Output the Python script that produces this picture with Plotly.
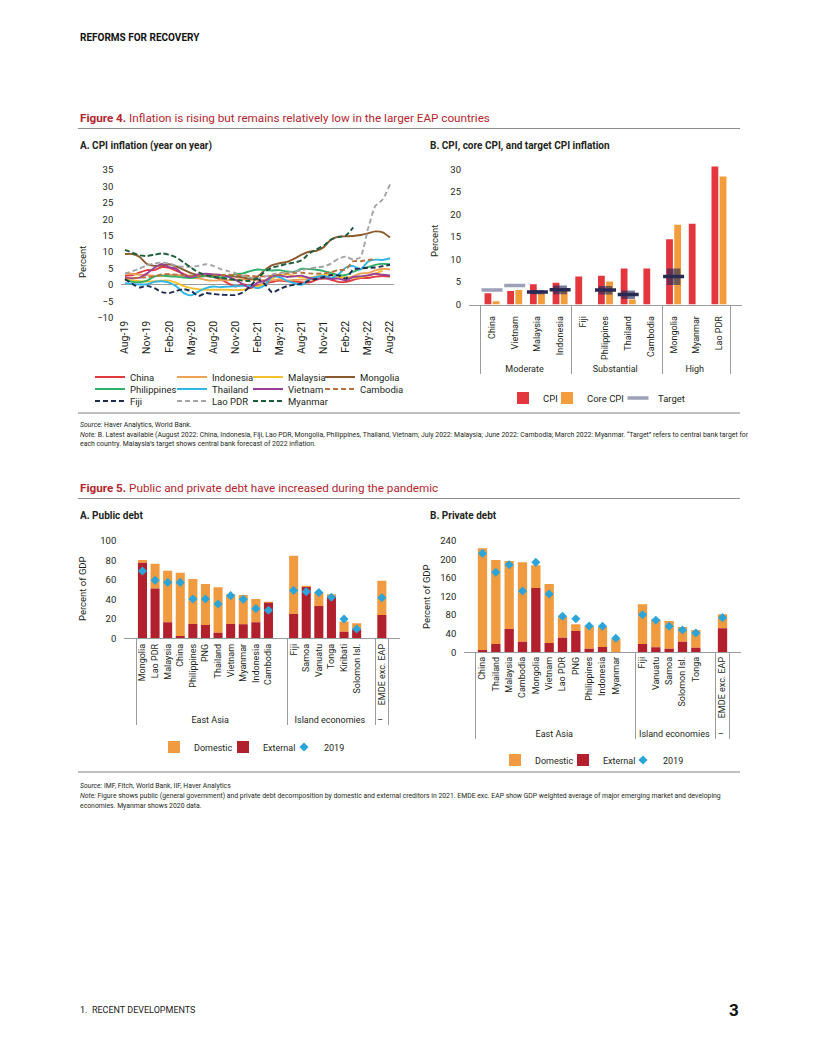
import plotly.graph_objects as go

# The page is photographed at 816x1056; the HTML body adds an 8px margin,
# so the figure is 808x1048 and page coordinates are shifted by 8px.
PAGE_OFF = 8
W, H = 816 - PAGE_OFF, 1056 - PAGE_OFF
FONT = "Roboto"
TXT = "#231f20"
AXIS_GRAY = "#9b9b9b"
RED_TITLE = "#b3262d"


def px(x):
    return (x - PAGE_OFF) / W


def py(y):
    return 1 - (y - PAGE_OFF) / H


# ---------------- Figure 4 A: CPI inflation (year on year) ----------------
months = ["Aug-19", "Sep-19", "Oct-19", "Nov-19", "Dec-19", "Jan-20", "Feb-20", "Mar-20",
          "Apr-20", "May-20", "Jun-20", "Jul-20", "Aug-20", "Sep-20", "Oct-20", "Nov-20",
          "Dec-20", "Jan-21", "Feb-21", "Mar-21", "Apr-21", "May-21", "Jun-21", "Jul-21",
          "Aug-21", "Sep-21", "Oct-21", "Nov-21", "Dec-21", "Jan-22", "Feb-22", "Mar-22",
          "Apr-22", "May-22", "Jun-22", "Jul-22", "Aug-22"]
month_ticks = ["Aug-19", "Nov-19", "Feb-20", "May-20", "Aug-20", "Nov-20", "Feb-21",
               "May-21", "Aug-21", "Nov-21", "Feb-22", "May-22", "Aug-22"]

china = [2.8, 3.0, 3.8, 4.5, 4.5, 5.4, 5.2, 4.3, 3.3, 2.4, 2.5, 2.7, 2.4, 1.7, 0.5, -0.5,
         0.2, -0.3, -0.2, 0.4, 0.9, 1.3, 1.1, 1.0, 0.8, 0.7, 1.5, 2.3, 1.5, 0.9, 0.9, 1.5,
         2.1, 2.1, 2.5, 2.7, 2.5]
indonesia = [3.5, 3.4, 3.1, 3.0, 2.7, 2.7, 3.0, 3.0, 2.7, 2.2, 2.0, 1.5, 1.3, 1.4, 1.4, 1.6,
             1.7, 1.6, 1.4, 1.4, 1.4, 1.7, 1.3, 1.5, 1.6, 1.6, 1.7, 1.8, 1.9, 2.2, 2.1, 2.6,
             3.5, 3.6, 4.4, 4.9, 4.7]
malaysia = [1.5, 1.3, 1.1, 1.0, 1.1, 1.3, 1.3, 0.6, -0.4, -1.0, -1.3, -1.5, -1.5, -1.5, -1.5,
            -1.6, -1.5, -1.0, -0.5, 0.5, 2.0, 3.0, 3.2, 2.8, 2.3, 2.2, 2.6, 3.0, 3.0, 2.6,
            2.3, 2.2, 2.3, 2.8, 3.4, 4.4]
mongolia = [9.4, 9.4, 8.5, 6.3, 5.8, 5.9, 6.3, 5.6, 4.6, 3.6, 3.0, 2.8, 2.8, 2.9, 2.7, 2.5,
            2.3, 1.8, 2.5, 4.5, 6.0, 6.6, 7.0, 8.0, 9.2, 10.1, 10.4, 11.5, 13.8, 14.7, 14.8,
            14.9, 15.2, 15.7, 16.3, 16.0, 14.4]
philippines = [1.7, 0.9, 0.8, 1.3, 2.5, 2.9, 2.6, 2.5, 2.2, 2.1, 2.5, 2.7, 2.4, 2.3, 2.5, 3.3,
               3.5, 4.2, 4.7, 4.5, 4.4, 4.5, 4.1, 4.0, 4.9, 4.8, 4.6, 4.2, 3.6, 3.0, 3.0, 4.0,
               4.9, 5.4, 6.1, 6.4, 6.3]
thailand = [0.5, 0.3, 0.1, 0.2, 0.9, 1.1, 0.7, -0.5, -2.5, -3.2, -2.0, -1.0, -0.5, -0.7, -0.5,
            -0.4, -0.3, -0.3, -1.0, -0.1, 2.5, 2.4, 1.3, 0.5, 0.0, 1.7, 2.4, 2.7, 2.2, 3.2,
            5.3, 5.7, 4.7, 7.1, 7.7, 7.6, 8.1]
vietnam = [2.3, 2.0, 2.2, 3.5, 5.2, 6.4, 5.4, 4.9, 2.9, 2.4, 3.2, 3.4, 3.2, 3.0, 2.5, 1.5,
           0.2, -1.0, 0.7, 1.2, 2.7, 2.9, 2.4, 2.6, 2.8, 2.1, 1.8, 2.1, 1.8, 1.9, 1.4, 2.4,
           2.6, 2.9, 3.4, 3.1, 2.9]
cambodia = [1.9, 2.0, 2.2, 2.3, 2.6, 3.2, 3.3, 3.1, 2.9, 2.8, 2.7, 2.8, 2.8, 3.0, 3.1, 3.0,
            2.9, 2.7, 2.6, 2.6, 2.8, 3.2, 3.5, 3.6, 3.7, 3.5, 3.4, 3.5, 3.9, 4.5, 4.7, 7.2,
            7.2, 7.6, 7.8]
fiji = [1.7, 0.3, -0.8, -0.3, -1.0, -2.2, -2.5, -1.8, -1.3, -1.9, -3.4, -2.5, -2.8, -3.0,
        -3.1, -3.1, -2.3, -0.5, 1.8, 0.2, -2.3, -1.3, -0.4, 0.0, 0.4, 1.2, 1.8, 2.4, 3.0,
        2.9, 1.9, 4.7, 5.0, 5.2, 5.3, 5.7, 6.1]
lao = [3.4, 4.2, 5.0, 6.0, 6.5, 6.8, 6.5, 5.8, 5.5, 5.5, 5.8, 6.3, 5.8, 4.8, 4.2, 3.6, 2.8,
       2.2, 1.9, 2.5, 3.2, 3.6, 3.8, 4.0, 4.5, 5.0, 5.3, 5.6, 6.5, 8.0, 8.6, 7.7, 8.5, 17.0,
       24.0, 26.0, 30.6]
myanmar = [10.7, 9.8, 9.0, 8.8, 9.2, 9.6, 9.2, 8.3, 6.8, 5.2, 3.8, 3.0, 2.5, 2.1, 1.8, 1.5,
           1.3, 1.2, 2.0, 4.0, 5.3, 5.8, 6.4, 6.8, 7.5, 9.5, 10.8, 12.0, 13.8, 14.6, 15.0, 17.5]

a_names = ["China", "Indonesia", "Malaysia", "Mongolia", "Philippines", "Thailand",
           "Vietnam", "Cambodia", "Fiji", "Lao PDR", "Myanmar"]
a_values = [china, indonesia, malaysia, mongolia, philippines, thailand, vietnam,
            cambodia, fiji, lao, myanmar]
a_colors = ["#e0393e", "#eda154", "#f7c12e", "#8b5a2b", "#2fb06a", "#31b5e6", "#9a3f97",
            "#b9733a", "#1d2b4f", "#a3a3a3", "#1c5e3b"]
a_dashes = ["solid"] * 7 + ["5px,3px"] * 4
a_leg_pos = [(130, 377), (212, 377), (288, 377), (360, 377),
             (130, 389), (212, 389), (288, 389), (360, 389),
             (130, 401), (212, 401), (288, 401)]

# ---------------- Figure 4 B: CPI, core CPI, target ----------------
b_groups = ["Moderate", "Moderate", "Moderate", "Moderate",
            "Substantial", "Substantial", "Substantial", "Substantial",
            "High", "High", "High"]
b_countries = ["China", "Vietnam", "Malaysia", "Indonesia", "Fiji", "Philippines",
               "Thailand", "Cambodia", "Mongolia", "Myanmar", "Lao PDR"]
b_cpi = [2.5, 3.0, 4.5, 4.8, 6.2, 6.4, 8.0, 8.0, 14.5, 17.9, 30.6]
b_core = [0.7, 3.2, 2.4, 3.4, None, 5.1, 1.1, None, 17.7, None, 28.4]
b_target_point = [3.2, 4.2, None, None, None, None, None, None, None, None, None]
b_target_mid = [None, None, 2.75, 3.3, None, 3.2, 2.2, None, 6.2, None, None]
b_target_low = [None, None, 2.3, 2.3, None, 2.2, 1.2, None, 4.3, None, None]
b_target_high = [None, None, 3.2, 4.2, None, 4.1, 3.1, None, 8.0, None, None]

# ---------------- Figure 5 A: Public debt ----------------
pub_groups = ["East Asia"] * 12 + ["Island economies"] * 7 + ["–"]
pub_countries = ["Mongolia", "Lao PDR", "Malaysia", "China", "Philippines", "PNG",
                 "Thailand", "Vietnam", "Myanmar", "Indonesia", "Cambodia", " ",
                 "Fiji", "Samoa", "Vanuatu", "Tonga", "Kiribati", "Solomon Isl.", "  ",
                 "EMDE exc. EAP"]
pub_external = [77.5, 50.9, 16.4, 2.4, 14.7, 13.7, 5.8, 14.7, 14.3, 16.4, 36.3, None,
                24.9, 52.6, 33.1, 42.7, 6.8, 9.2, None, 23.9]
pub_domestic = [2.7, 25.6, 52.9, 64.8, 46.1, 41.9, 46.4, 30.4, 30.1, 23.9, 0.4, None,
                59.7, 0.5, 14.0, 2.4, 10.3, 6.2, None, 35.1]
pub_2019 = [69.0, 59.4, 57.3, 57.3, 40.3, 40.3, 35.2, 43.7, 39.9, 30.4, 28.7, None,
            49.1, 47.8, 46.8, 42.0, 19.8, 9.6, None, 41.6]

# ---------------- Figure 5 B: Private debt ----------------
priv_groups = ["East Asia"] * 12 + ["Island economies"] * 6 + ["–"]
priv_countries = ["China", "Thailand", "Malaysia", "Cambodia", "Mongolia", "Vietnam",
                  "Lao PDR", "PNG", "Philippines", "Indonesia", "Myanmar", " ",
                  "Fiji", "Vanuatu", "Samoa", "Solomon Isl.", "Tonga", "  ",
                  "EMDE exc. EAP"]
priv_external = [5.0, 17.9, 50.1, 22.9, 138.3, 20.0, 31.5, 45.8, 7.9, 11.5, 0.0, None,
                 17.9, 10.7, 7.9, 22.9, 10.0, None, 51.6]
priv_domestic = [218.5, 180.5, 146.2, 170.5, 48.7, 126.8, 44.4, 14.4, 49.4, 42.9, 28.7,
                 None, 85.3, 60.2, 59.4, 31.5, 38.0, None, 30.1]
priv_2019 = [212.8, 171.9, 188.4, 131.8, 193.4, 125.4, 77.4, 72.3, 56.6, 55.9, 30.1, None,
             80.9, 68.8, 55.9, 48.0, 41.5, None, 74.5]

# colours
C_CPI = "#e3363d"
C_CORE = "#f29c3b"
C_TGT_DARK = "#272b54"
C_TGT_BOX = "rgba(36,42,88,0.62)"
C_TGT_LIGHT = "#9ca1b8"
C_DOM = "#f19b40"
C_EXT = "#b2202d"
C_2019 = "#2ba5d9"

fig = go.Figure()

legend_layouts = {}


def new_legend(text_x, y_c, size=9.5):
    n = len(legend_layouts) + 1
    key = "legend" if n == 1 else "legend%d" % n
    legend_layouts[key] = dict(
        x=px(text_x - 40), y=py(y_c), xanchor="left", yanchor="middle",
        orientation="h", bgcolor="rgba(0,0,0,0)", borderwidth=0,
        font=dict(family=FONT, size=size, color=TXT), itemwidth=30,
        tracegroupgap=0, itemclick=False, itemdoubleclick=False)
    return key


# ---- Figure 4A traces
for name, vals, col, dash, (lx, ly) in zip(a_names, a_values, a_colors, a_dashes, a_leg_pos):
    fig.add_trace(go.Scatter(
        x=months[:len(vals)], y=vals, name=name, mode="lines",
        line=dict(color=col, width=1.9, dash=dash, shape="spline", smoothing=0.6),
        xaxis="x", yaxis="y", legend=new_legend(lx, ly), hoverinfo="skip"))

# ---- Figure 4B traces
b_x = [b_groups, b_countries]
fig.add_trace(go.Bar(x=b_x, y=b_cpi, name="CPI", marker=dict(color=C_CPI, line=dict(width=0)),
                     width=0.3, offset=-0.33, xaxis="x2", yaxis="y2",
                     legend=new_legend(543, 398)))
fig.add_trace(go.Bar(x=b_x, y=b_core, name="Core CPI", marker=dict(color=C_CORE, line=dict(width=0)),
                     width=0.3, offset=0.03, xaxis="x2", yaxis="y2",
                     legend=new_legend(587, 398)))
box_height = [None if lo is None else hi - lo for lo, hi in zip(b_target_low, b_target_high)]
fig.add_trace(go.Bar(x=b_x, y=box_height, base=b_target_low, name="Target range",
                     marker=dict(color=C_TGT_BOX, line=dict(width=0)), width=0.6, offset=-0.3,
                     xaxis="x2", yaxis="y2", showlegend=False))
fig.add_trace(go.Scatter(x=b_x, y=b_target_mid, mode="markers", name="Target (mid)",
                         marker=dict(symbol="line-ew", size=15, line=dict(color=C_TGT_DARK, width=3.5)),
                         xaxis="x2", yaxis="y2", showlegend=False))
fig.add_trace(go.Scatter(x=b_x, y=b_target_point, mode="markers", name="Target",
                         marker=dict(symbol="line-ew", size=15, line=dict(color=C_TGT_LIGHT, width=3.5)),
                         xaxis="x2", yaxis="y2", legend=new_legend(658, 398)))

# ---- Figure 5A traces
pub_x = [pub_groups, pub_countries]
fig.add_trace(go.Bar(x=pub_x, y=pub_domestic, base=pub_external, name="Domestic",
                     marker=dict(color=C_DOM, line=dict(width=0)), width=0.72,
                     xaxis="x3", yaxis="y3", legend=new_legend(194, 747, 9)))
fig.add_trace(go.Bar(x=pub_x, y=pub_external, name="External",
                     marker=dict(color=C_EXT, line=dict(width=0)), width=0.72,
                     xaxis="x3", yaxis="y3", legend=new_legend(263, 747, 9)))
fig.add_trace(go.Scatter(x=pub_x, y=pub_2019, mode="markers", name="2019",
                         marker=dict(symbol="diamond", size=7, color=C_2019),
                         xaxis="x3", yaxis="y3", legend=new_legend(324, 747, 9)))

# ---- Figure 5B traces
priv_x = [priv_groups, priv_countries]
fig.add_trace(go.Bar(x=priv_x, y=priv_domestic, base=priv_external, name="Domestic",
                     marker=dict(color=C_DOM, line=dict(width=0)), width=0.7,
                     xaxis="x4", yaxis="y4", legend=new_legend(535, 760, 9)))
fig.add_trace(go.Bar(x=priv_x, y=priv_external, name="External",
                     marker=dict(color=C_EXT, line=dict(width=0)), width=0.7,
                     xaxis="x4", yaxis="y4", legend=new_legend(603, 760, 9)))
fig.add_trace(go.Scatter(x=priv_x, y=priv_2019, mode="markers", name="2019",
                         marker=dict(symbol="diamond", size=7, color=C_2019),
                         xaxis="x4", yaxis="y4", legend=new_legend(663, 760, 9)))

tick_font = dict(family=FONT, size=9.5, color=TXT)
cat_font = dict(family=FONT, size=9, color=TXT)
ybase = dict(showgrid=False, zeroline=False, ticks="", showline=False, tickfont=tick_font,
             ticklabelstandoff=7, fixedrange=True)
xcat = dict(type="multicategory", showgrid=False, zeroline=False, ticks="", tickangle=-90,
            showline=True, linecolor=AXIS_GRAY, linewidth=1, showdividers=True,
            dividercolor=AXIS_GRAY, dividerwidth=1, tickfont=cat_font, fixedrange=True)

fig.update_layout(
    width=W, height=H, margin=dict(l=0, r=0, t=0, b=0), template="none",
    paper_bgcolor="white", plot_bgcolor="rgba(0,0,0,0)", barmode="overlay",
    font=dict(family=FONT, color=TXT), hovermode=False, showlegend=True,
    xaxis=dict(domain=[px(121.3), px(393.7)], anchor="y", type="category",
               categoryorder="array", categoryarray=months, tickmode="array",
               tickvals=month_ticks, ticktext=month_ticks, tickangle=-90, showgrid=False,
               zeroline=False, showline=False, ticks="",
               tickfont=dict(family=FONT, size=10.5, color=TXT),
               range=[-0.5, 36.5], fixedrange=True),
    yaxis=dict(ybase, domain=[py(317.7), py(170)], anchor="x", range=[-10, 35], dtick=5,
               tick0=0, zeroline=True, zerolinecolor=AXIS_GRAY, zerolinewidth=1),
    xaxis2=dict(xcat, domain=[px(469), px(742)], anchor="y2", ticklabelstandoff=7),
    yaxis2=dict(ybase, domain=[py(304.5), py(164.8)], anchor="x2", range=[0, 31],
                tickvals=[0, 5, 10, 15, 20, 25, 30]),
    xaxis3=dict(xcat, domain=[px(124.3), px(400)], anchor="y3", ticklabelstandoff=1),
    yaxis3=dict(ybase, domain=[py(638.3), py(540.7)], anchor="x3", range=[0, 100],
                tickvals=[0, 20, 40, 60, 80, 100]),
    xaxis4=dict(xcat, domain=[px(464.3), px(740.7)], anchor="y4"),
    yaxis4=dict(ybase, domain=[py(652.3), py(540.7)], anchor="x4", range=[0, 240],
                tickvals=[0, 40, 80, 120, 160, 200, 240]),
)
fig.update_layout(**legend_layouts)


def note(text, x, y, size, color=TXT, angle=0, xanchor="left"):
    return dict(text=text, x=px(x), y=py(y), xref="paper", yref="paper", showarrow=False,
                xanchor=xanchor, yanchor="middle", textangle=angle,
                font=dict(family=FONT, size=size, color=color))


annotations = [
    note("<b>REFORMS FOR RECOVERY</b>", 78, 38, 10, "#111111"),
    note("<b>Figure 4.</b> Inflation is rising but remains relatively low in the larger EAP countries",
         78, 118, 11.7, RED_TITLE),
    note("<b>A. CPI inflation (year on year)</b>", 78, 146, 10),
    note("<b>B. CPI, core CPI, and target CPI inflation</b>", 428, 146, 10),
    note("Percent", 82, 262, 9.5, angle=-90, xanchor="center"),
    note("Percent", 435, 241, 9.5, angle=-90, xanchor="center"),
    note("<i>Source:</i> Haver Analytics, World Bank.", 78, 425, 6.9),
    note("<i>Note:</i> B. Latest available (August 2022: China, Indonesia, Fiji, Lao PDR, Mongolia, "
         "Philippines, Thailand, Vietnam; July 2022: Malaysia; June 2022: Cambodia; March 2022: "
         "Myanmar. “Target” refers to central bank target for", 78, 435, 6.9),
    note("each country. Malaysia’s target shows central bank forecast of 2022 inflation.",
         78, 444.5, 6.9),
    note("<b>Figure 5.</b> Public and private debt have increased during the pandemic",
         78, 488, 11.7, RED_TITLE),
    note("<b>A. Public debt</b>", 78, 515, 10),
    note("<b>B. Private debt</b>", 428, 515, 10),
    note("Percent of GDP", 82, 589, 9.5, angle=-90, xanchor="center"),
    note("Percent of GDP", 426, 597, 9.5, angle=-90, xanchor="center"),
    note("<i>Source:</i> IMF, Fitch, World Bank, IIF, Haver Analytics", 78, 786, 6.85),
    note("<i>Note:</i> Figure shows public (general government) and private debt decomposition by "
         "domestic and external creditors in 2021. EMDE exc. EAP show GDP weighted average of major "
         "emerging market and developing", 78, 796, 6.85),
    note("economies. Myanmar shows 2020 data.", 78, 805.5, 6.85),
    note("1.  RECENT DEVELOPMENTS", 78, 1010, 9, "#222222"),
    note("<b>3</b>", 741, 1010, 17, "#111111", xanchor="right"),
]


def rule(y, color="#8d8d8d", width=1.2):
    return dict(type="line", xref="paper", yref="paper", x0=px(78), x1=px(740),
                y0=py(y), y1=py(y), line=dict(color=color, width=width))


fig.update_layout(annotations=annotations,
                  shapes=[rule(128.5), rule(413, "#ababab", 1.6), rule(498.5),
                          rule(772, "#ababab", 1.6)])

fig.write_html("out.html")
